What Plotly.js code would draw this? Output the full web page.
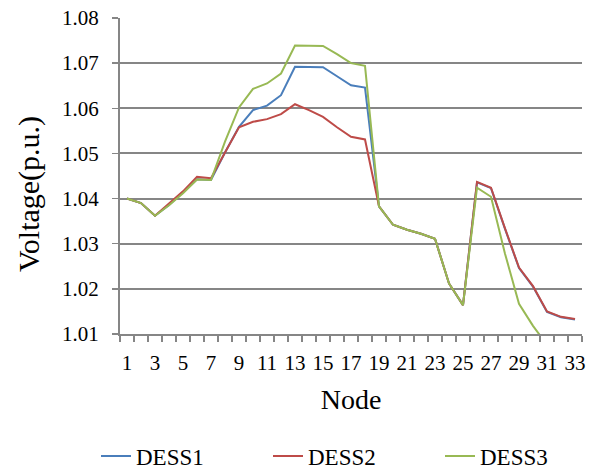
<!DOCTYPE html>
<html>
<head>
<meta charset="utf-8">
<script src="https://cdn.plot.ly/plotly-3.0.1.min.js"></script>
<style>html,body{margin:0;padding:0;background:#fff;}#chart{width:595px;height:469px;}</style>
</head>
<body>
<div id="chart"></div>
<script>
const nodes = Array.from({length: 33}, (_, i) => i + 1);
const dess1 = [1.0400,1.0390,1.0362,1.0386,1.0414,1.0443,1.0441,1.0502,1.0559,1.0596,1.0606,1.0629,1.0692,1.0692,1.0691,1.0671,1.0651,1.0646,1.0383,1.0342,1.0331,1.0322,1.0311,1.0212,1.0164,1.0436,1.0423,1.0333,1.0246,1.0205,1.0149,1.0137,1.0132];
const dess2 = [1.0400,1.0390,1.0362,1.0388,1.0416,1.0448,1.0445,1.0502,1.0558,1.0570,1.0576,1.0587,1.0609,1.0596,1.0581,1.0558,1.0537,1.0531,1.0383,1.0342,1.0331,1.0322,1.0311,1.0212,1.0164,1.0437,1.0424,1.0334,1.0247,1.0206,1.0150,1.0138,1.0133];
const dess3 = [1.0400,1.0390,1.0362,1.0385,1.0412,1.0442,1.0441,1.0526,1.0602,1.0643,1.0655,1.0677,1.0739,1.0739,1.0738,1.0720,1.0700,1.0694,1.0383,1.0342,1.0331,1.0322,1.0311,1.0212,1.0164,1.0424,1.0404,1.0278,1.0167,1.0118,1.0076,1.0066,1.0062];
const seriesNames = ['DESS1', 'DESS2', 'DESS3'];
const seriesColors = ['#4A7EBB', '#BE4B48', '#98B954'];
const xTickVals = nodes.filter(n => n % 2 === 1);
const yTickVals = [1.01, 1.02, 1.03, 1.04, 1.05, 1.06, 1.07, 1.08];
const yGridVals = [1.02, 1.03, 1.04, 1.05, 1.06, 1.07];

const serif = '"Liberation Serif", "Times New Roman", Times, serif';
const gray = '#868686';
const legendIds = ['legend', 'legend2', 'legend3'];

const traces = [dess1, dess2, dess3].map((vals, i) => ({
  x: nodes, y: vals, type: 'scatter', mode: 'lines', name: seriesNames[i],
  line: {color: seriesColors[i], width: 2}, legend: legendIds[i]
}));

function legendAt(px) {
  return {
    xref: 'container', yref: 'container', x: px / 595, xanchor: 'left',
    y: 1 - 456 / 469, yanchor: 'middle', orientation: 'h',
    font: {family: serif, size: 23, color: '#000'}, bgcolor: 'rgba(0,0,0,0)', borderwidth: 0
  };
}

const layout = {
  width: 595, height: 469,
  margin: {l: 120, r: 13, t: 18, b: 135, autoexpand: false},
  paper_bgcolor: '#fff', plot_bgcolor: '#fff',
  font: {family: serif, color: '#000'},
  showlegend: true,
  legend: legendAt(96),
  legend2: legendAt(268),
  legend3: legendAt(440),
  xaxis: {
    range: [0.5, 33.5], tickmode: 'array', tickvals: xTickVals,
    ticktext: xTickVals.map(String), ticks: '',
    showline: true, linecolor: gray, linewidth: 2, showgrid: false, zeroline: false,
    tickfont: {family: serif, size: 21, color: '#000'}, ticklabelstandoff: 9,
    minor: {tick0: 0.5, dtick: 1, ticks: 'outside', ticklen: 6, tickwidth: 1.5, tickcolor: gray, showgrid: false},
    title: {text: 'Node', font: {family: serif, size: 28, color: '#000'}, standoff: 15}
  },
  yaxis: {
    range: [1.01, 1.08], tickmode: 'array', tickvals: yTickVals,
    ticktext: yTickVals.map(v => v.toFixed(2)),
    ticks: 'outside', ticklen: 6, tickwidth: 1.5, tickcolor: gray,
    showline: true, linecolor: gray, linewidth: 2, showgrid: false, zeroline: false,
    tickfont: {family: serif, size: 21, color: '#000'}, ticklabelstandoff: 9,
    minor: {tickmode: 'array', tickvals: yGridVals, ticks: '', showgrid: true, gridcolor: gray, gridwidth: 2}
  },
  annotations: [{
    text: 'Voltage(p.u.)', xref: 'paper', yref: 'paper',
    x: (29 - 120) / 462, y: (334 - 194) / 316, xanchor: 'center', yanchor: 'middle',
    textangle: -90, showarrow: false, font: {family: serif, size: 30, color: '#000'}
  }]
};

Plotly.newPlot('chart', traces, layout, {displayModeBar: false, staticPlot: true});
</script>
</body>
</html>
